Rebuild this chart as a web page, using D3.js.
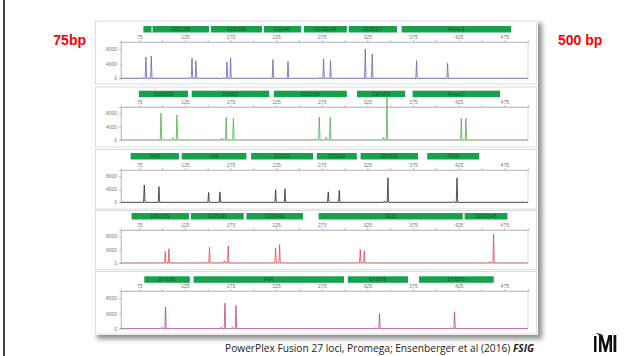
<!DOCTYPE html>
<html>
<head>
<meta charset="utf-8">
<script src="https://cdn.jsdelivr.net/npm/d3@7"></script>
<style>
  body { margin: 0; background: #fff; }
  svg { display: block; font-family: "Liberation Sans", Arial, sans-serif; }
</style>
</head>
<body>
<svg id="chart" width="625" height="356"></svg>
<script>
// size axis (bp) and rfu axis
const bpTicks = [75, 125, 175, 225, 275, 325, 375, 425, 475];
const rfuTicks = [0, 4000, 8000];

// loci bars per dye: [name, startBp, endBp]
const blueLoci = [['', 79, 89], ['D3S1358', 89, 152], ['D1S1656', 153, 210], ['D2S441', 211, 253], ['D10S1248', 255, 303], ['D13S317', 304, 358], ['Penta E', 362, 483]];
const greenLoci = [['D16S539', 74, 129], ['D18S51', 132, 218], ['D2S1338', 222, 303], ['CSF1PO', 313, 367], ['Penta D', 374, 471]];
const blackLoci = [['TH01', 65, 119], ['vWA', 121, 193], ['D21S11', 197, 266], ['D7S820', 269, 314], ['D5S818', 317, 381], ['TPOX', 390, 448]];
const redLoci = [['D8S1179', 66, 130], ['D12S391', 131, 190], ['D19S433', 192, 255], ['SE33', 271, 430], ['D22S1045', 431, 479]];
const purpleLoci = [['DYS391', 80, 131], ['FGA', 134, 300], ['DYS576', 303, 370], ['DYS570', 381, 464]];

// peaks per dye: [bp, rfu]
const bluePeaks = [[78.5, 300], [82.3, 5800], [88.2, 6100], [129, 300], [132.8, 5500], [137.1, 4800], [167, 250], [171.1, 4500], [175.1, 5500],
  [221.5, 5100], [238, 4600], [273, 300], [277, 5300], [284.6, 4800], [322.7, 8000], [330.3, 6600], [378.9, 4800], [412.9, 4100]];
const greenPeaks = [[95, 250], [98.8, 8000], [111.9, 700], [116.3, 7500], [165.6, 500], [170.3, 6800], [178.2, 6500], [268, 400], [272.3, 6900],
  [280, 900], [284.3, 6800], [342.7, 900], [346.5, 12700], [427.9, 6500], [433, 6500]];
const blackPeaks = [[80.5, 5300], [96.6, 4800], [151, 3000], [163.4, 3200], [224.4, 3850], [234.7, 4150], [282.1, 3200], [294.2, 3650],
  [343.5, 400], [347.5, 7500], [419.2, 300], [423.2, 7500]];
const redPeaks = [[103.5, 3500], [107.5, 4300], [148, 300], [152, 4700], [168.2, 700], [172.5, 5100], [224.4, 4500], [228.8, 5500],
  [317.2, 4000], [321.6, 3700], [459.3, 400], [463.3, 8700]];
const purplePeaks = [[99.8, 400], [103.8, 5700], [164.9, 400], [168.9, 6700], [177, 400], [181, 6100], [334.3, 300], [338.3, 4000],
  [416.5, 300], [420.5, 4450]];

const dyes = [
  { loci: blueLoci, peaks: bluePeaks, color: '#6565b0', box: [21, 84], bar: 26, label: 38, plot: [42, 78.3] },
  { loci: greenLoci, peaks: greenPeaks, color: '#52ad52', box: [87, 147], bar: 90.7, label: 103.3, plot: [107, 140] },
  { loci: blackLoci, peaks: blackPeaks, color: '#2a2a2a', box: [149.5, 209], bar: 153, label: 166.3, plot: [170, 202.3] },
  { loci: redLoci, peaks: redPeaks, color: '#d65050', box: [210.5, 269.5], bar: 213, label: 226.3, plot: [230, 263] },
  { loci: purpleLoci, peaks: purplePeaks, color: '#b04a82', box: [271.5, 334], bar: 276.3, label: 287, plot: [291, 328.7] }
];

const svg = d3.select('#chart');
const defs = svg.append('defs');
const shadow = defs.append('filter').attr('id', 'shadow')
  .attr('x', '-5%').attr('y', '-5%').attr('width', '115%').attr('height', '120%');
shadow.append('feDropShadow')
  .attr('dx', 4).attr('dy', 4).attr('stdDeviation', 2.5)
  .attr('flood-color', '#000').attr('flood-opacity', 0.45);

// slide edge
svg.append('line')
  .attr('x1', 4).attr('x2', 4).attr('y1', 0).attr('y2', 356)
  .attr('stroke', '#000').attr('stroke-width', 1.5);

let x = d3.scaleLinear().domain([55, 501]).range([121, 528]);

svg.append('rect')
  .attr('x', 93).attr('y', 19).attr('width', 445).attr('height', 316)
  .attr('fill', '#fff')
  .attr('filter', 'url(#shadow)');

dyes.forEach(d => drawPanel(d));

function drawPanel(d) {
  let g = svg.append('g');
  g.append('rect')
    .attr('x', 95.5).attr('y', d.box[0])
    .attr('width', 441).attr('height', d.box[1] - d.box[0])
    .attr('fill', '#fff').attr('stroke', '#d4d4d4').attr('stroke-width', 0.8);

  let y = d3.scaleLinear().domain([0, 9900]).range([d.plot[1], d.plot[0]]);

  // loci bars
  let bars = g.selectAll('.locus').data(d.loci).enter().append('g').classed('locus', true);
  bars.append('rect')
    .attr('x', l => x(l[1]) + 0.5)
    .attr('y', d.bar)
    .attr('width', l => x(l[2]) - x(l[1]) - 1)
    .attr('height', 6.5)
    .attr('fill', '#16a14c');
  bars.append('text')
    .attr('x', l => (x(l[1]) + x(l[2])) / 2)
    .attr('y', d.bar + 4.8)
    .attr('text-anchor', 'middle')
    .attr('font-size', 4.6)
    .attr('fill', '#0b5a28')
    .text(l => l[0]);

  // plot frame
  g.append('rect')
    .attr('x', x.range()[0]).attr('y', d.plot[0])
    .attr('width', x.range()[1] - x.range()[0]).attr('height', d.plot[1] - d.plot[0])
    .attr('fill', 'none').attr('stroke', '#bdbdbd').attr('stroke-width', 0.6);

  let xAxis = d3.axisTop(x)
    .tickValues(d3.range(75, 476, 25))
    .tickSize(2)
    .tickPadding(1.5)
    .tickFormat(v => bpTicks.includes(v) ? v : '');
  let xg = g.append('g')
    .attr('transform', `translate(0,${d.plot[0]})`)
    .call(xAxis);
  let yAxis = d3.axisLeft(y).tickValues(rfuTicks).tickSize(2).tickPadding(2).tickFormat(d3.format('d'));
  let yg = g.append('g')
    .attr('transform', `translate(${x.range()[0]},0)`)
    .call(yAxis);
  [xg, yg].forEach(a => {
    a.select('.domain').attr('stroke', '#aaa').attr('stroke-width', 0.6);
    a.selectAll('.tick line').attr('stroke', '#999').attr('stroke-width', 0.6);
    a.selectAll('.tick text').attr('fill', '#777').attr('font-size', 5);
  });

  // trace
  let pts = [[x.domain()[0], 0]];
  d.peaks.slice().sort((a, b) => a[0] - b[0]).forEach(p => {
    pts.push([p[0] - 0.8, 0], [p[0], p[1]], [p[0] + 0.8, 0]);
  });
  pts.push([x.domain()[1], 0]);
  let line = d3.line().x(p => x(p[0])).y(p => y(p[1]));
  g.append('path')
    .attr('d', line(pts))
    .attr('fill', 'none')
    .attr('stroke', d.color)
    .attr('stroke-width', 0.8)
    .attr('stroke-linejoin', 'round');
}

svg.append('text')
  .attr('x', 86).attr('y', 45)
  .attr('text-anchor', 'end')
  .attr('font-size', 14).attr('font-weight', 'bold')
  .attr('fill', '#ff0000')
  .text('75bp');
svg.append('text')
  .attr('x', 558).attr('y', 45)
  .attr('font-size', 14).attr('font-weight', 'bold')
  .attr('fill', '#ff0000')
  .text('500 bp');

let cap = svg.append('text')
  .attr('x', 225).attr('y', 352)
  .attr('font-family', 'Open Sans, sans-serif')
  .attr('font-size', 10.2)
  .attr('fill', '#222');
cap.append('tspan').text('PowerPlex Fusion 27 loci, Promega; Ensenberger et al (2016) ');
cap.append('tspan').attr('font-weight', 'bold').attr('font-style', 'italic').text('FSIG');

// logo
let logo = svg.append('g').attr('transform', 'translate(591,333)');
logo.append('path')
  .attr('d', 'M0,3 Q4,-1 8,2 L8,19 L10.5,19 L10.5,7 L13.5,19 L15.5,19 L18.5,7 L18.5,19 L21,19 L21,2 L17.5,2 L14.5,13 L11.5,2 Q6,-2 0,3 Z M3,3 L5.5,3 L5.5,19 L3,19 Z')
  .attr('fill', '#111');
logo.append('rect').attr('x', 22.5).attr('y', 2).attr('width', 2.8).attr('height', 17).attr('fill', '#111');
</script>
</body>
</html>
